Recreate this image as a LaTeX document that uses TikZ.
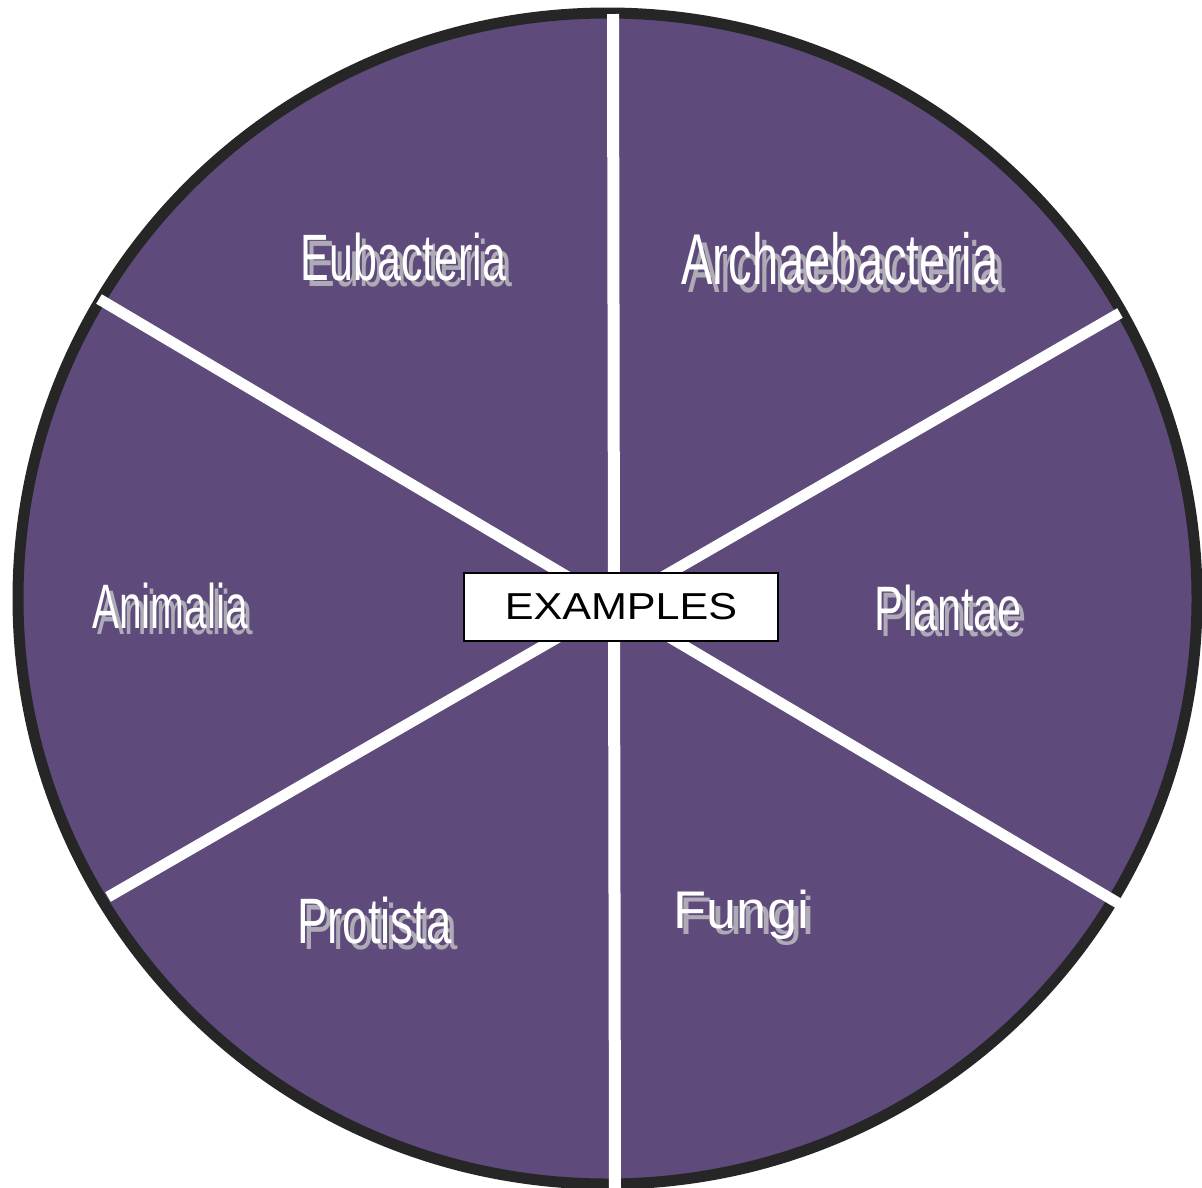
\documentclass[tikz,border=0pt]{standalone}
\usepackage{fontspec}
\setmainfont{Liberation Sans}
\usepackage{graphicx}
\definecolor{kpurple}{HTML}{5E4A7B}
\definecolor{kborder}{HTML}{262626}
\definecolor{kshadow}{HTML}{AEABB6}
\tikzset{
  divider/.style={white, line width=12pt, line cap=butt},
  kingdomtext/.style={inner sep=0pt, anchor=base, text=white},
  kingdomshadow/.style={inner sep=0pt, anchor=base, text=kshadow},
  examplebox/.style={draw=black, fill=white, line width=1.5pt, minimum width=314pt, minimum height=68pt, inner sep=0pt},
}
% name, x, baseline y, font size, x-scale, shadow offset, text
\newcommand{\kingdomlabel}[7]{%
  \node[kingdomshadow] (#1-shadow) at ({#2+#6},{#3+1.15*#6}) {\fontsize{#4}{#4}\selectfont\scalebox{#5}[1]{#7}};
  \node[kingdomtext] (#1) at (#2,#3) {\fontsize{#4}{#4}\selectfont\scalebox{#5}[1]{#7}};
}
\begin{document}
\begin{tikzpicture}[x=1pt,y=-1pt]
\useasboundingbox (0,0) rectangle (1202,1187);
\clip (0,0) rectangle (1202,1187);
% wheel
\draw[fill=kpurple, draw=kborder, line width=11pt] (607.5,598.5) ellipse [x radius=589.5, y radius=585.5];
% dividers
\coordinate (vtop) at (613,14);
\coordinate (vbot) at (615,1192);
\coordinate (ul) at (99,299);
\coordinate (lr) at (1118,903);
\coordinate (ur) at (1120,313);
\coordinate (ll) at (108,897);
\draw[divider] (vtop) -- (vbot);
\draw[divider, line width=11pt] (ul) -- (lr);
\draw[divider, line width=11pt] (ur) -- (ll);
% centre box
\node[examplebox] (examples) at (621,607) {\fontsize{37.5}{37.5}\selectfont\scalebox{1.15}[1]{EXAMPLES}};
% labels
\kingdomlabel{eubacteria}{403.5}{280}{65.6}{0.655}{6}{Eubacteria}
\kingdomlabel{archaebacteria}{840}{284}{72}{0.655}{7.5}{Archaebacteria}
\kingdomlabel{animalia}{170}{628}{62.8}{0.646}{5.5}{Animalia}
\kingdomlabel{plantae}{948}{630}{62.8}{0.69}{5.5}{Plantae}
\kingdomlabel{protista}{374.5}{943}{64.2}{0.71}{6}{Protista}
\kingdomlabel{fungi}{741.5}{928}{53}{1.02}{5.5}{Fungi}
\end{tikzpicture}
\end{document}
